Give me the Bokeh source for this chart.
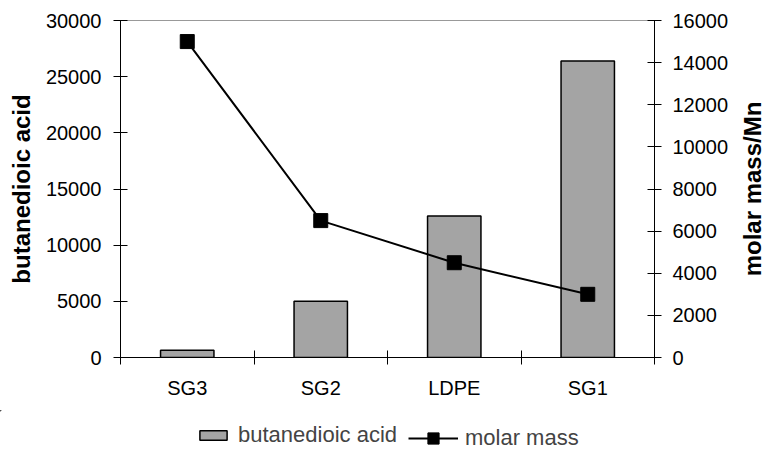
import numpy as np
from bokeh.plotting import figure
from bokeh.layouts import column, row
from bokeh.models import (Range1d, LinearAxis, FixedTicker, Legend, LegendItem,
                          ColumnDataSource)
from bokeh.embed import file_html
from bokeh.resources import INLINE

categories = ["SG3", "SG2", "LDPE", "SG1"]
butanedioic_acid = [650, 5000, 12600, 26400]
molar_mass = [15000, 6500, 4500, 3000]
left_ticks = [0, 5000, 10000, 15000, 20000, 25000, 30000]
right_ticks = [0, 2000, 4000, 6000, 8000, 10000, 12000, 14000, 16000]

FONT = "Liberation Sans"
BAR_COLOR = "#a4a4a4"

xs = np.arange(len(categories)) + 0.5
src = ColumnDataSource(dict(x=xs, acid=butanedioic_acid, mm=molar_mass, cat=categories))

H_MAIN = 410
W_RLAB = 36
W_MAIN = 767 - W_RLAB
p = figure(width=W_MAIN, height=H_MAIN, output_backend="svg", toolbar_location=None,
           x_range=Range1d(0, len(categories)), y_range=Range1d(0, 30000),
           min_border_left=120, min_border_right=W_MAIN - 655, min_border_top=20,
           min_border_bottom=H_MAIN - 357, y_axis_location=None, x_axis_location=None)
p.extra_y_ranges = {"right": Range1d(0, 16000)}
p.grid.visible = False
p.outline_line_color = "#999999"
p.outline_line_width = 1
p.border_fill_color = "white"

def style_axis(ax):
    ax.axis_line_color = "black"
    ax.axis_line_width = 1
    ax.major_tick_line_color = "black"
    ax.major_tick_out = 7
    ax.major_tick_in = 7
    ax.minor_tick_line_color = None
    ax.major_label_text_font = FONT
    ax.major_label_text_font_size = "20px"
    ax.major_label_text_color = "black"
    ax.axis_label_text_font = FONT
    ax.axis_label_text_font_size = "24px"
    ax.axis_label_text_font_style = "bold"
    ax.axis_label_text_color = "black"

yl = LinearAxis(ticker=FixedTicker(ticks=left_ticks), axis_label="butanedioic acid")
style_axis(yl)
yl.major_label_standoff = 12
yl.axis_label_standoff = 8
p.add_layout(yl, "left")

yr = LinearAxis(y_range_name="right", ticker=FixedTicker(ticks=right_ticks))
style_axis(yr)
yr.major_label_standoff = 11
p.add_layout(yr, "right")

bounds = list(np.arange(len(categories) + 1).astype(float))
xa = LinearAxis(ticker=FixedTicker(ticks=list(xs), minor_ticks=bounds))
style_axis(xa)
xa.major_tick_line_color = None
xa.minor_tick_line_color = "black"
xa.minor_tick_out = 7
xa.minor_tick_in = 7
xa.major_label_standoff = 12
xa.major_label_overrides = {float(x): c for x, c in zip(xs, categories)}
p.add_layout(xa, "below")

bars = p.vbar(x="x", top="acid", width=0.4, source=src, fill_color=BAR_COLOR,
              line_color="black", line_width=1.5)
ln = p.line(x="x", y="mm", source=src, y_range_name="right", line_color="black",
            line_width=2)
mk = p.scatter(x="x", y="mm", source=src, y_range_name="right", marker="square",
               size=14, fill_color="black", line_color="black")

# narrow strip carrying the right-hand axis title (reads bottom-to-top)
rf = figure(width=W_RLAB, height=H_MAIN, output_backend="svg", toolbar_location=None,
            x_range=Range1d(0, 1), y_range=Range1d(0, 16000),
            min_border_left=W_RLAB - 2, min_border_right=0, min_border_top=20,
            min_border_bottom=H_MAIN - 357, y_axis_location=None, x_axis_location=None)
rf.grid.visible = False
rf.outline_line_color = None
rf.border_fill_color = "white"
rl = LinearAxis(ticker=FixedTicker(ticks=[]), axis_label="molar mass/Mn")
style_axis(rl)
rl.axis_line_color = None
rl.major_tick_line_color = None
rl.major_tick_out = 0
rl.major_tick_in = 0
rl.major_label_text_font_size = "0px"
rl.axis_label_standoff = 0
rf.add_layout(rl, "left")

# legend strip below the chart (its renderers' data lie outside its view)
H_LEG = 460 - H_MAIN
n = len(categories)
lf = figure(width=767, height=H_LEG, output_backend="svg", toolbar_location=None,
            x_range=Range1d(n, 2 * n), y_range=Range1d(-60000, -30000),
            min_border_left=0, min_border_right=0, min_border_top=0,
            min_border_bottom=0, x_axis_location=None, y_axis_location=None)
lf.grid.visible = False
lf.outline_line_color = None
lf.border_fill_color = "white"
lbar = lf.vbar(x="x", top="acid", width=0.4, source=src, fill_color=BAR_COLOR,
               line_color="black", line_width=1.5)
lln = lf.line(x="x", y="mm", source=src, line_color="black", line_width=2)
lmk = lf.scatter(x="x", y="mm", source=src, marker="square", size=12,
                 fill_color="black", line_color="black")

def mk_legend(items, loc, gw, gh, standoff):
    return Legend(items=items, location=loc, orientation="horizontal",
                  glyph_width=gw, glyph_height=gh, label_standoff=standoff,
                  label_text_font=FONT, label_text_font_size="22px",
                  label_height=20, padding=0, margin=0, spacing=0,
                  border_line_color=None, background_fill_alpha=0)

lf.add_layout(mk_legend([LegendItem(label="butanedioic acid", renderers=[lbar])],
                        (196, 12), 34, 12, 8), "center")
lf.add_layout(mk_legend([LegendItem(label="molar mass", renderers=[lln, lmk])],
                        (408, 8), 50, 28, 7), "center")

layout = column(row(p, rf, spacing=0), lf, spacing=0)
open("out.html", "w").write(file_html(layout, INLINE))
